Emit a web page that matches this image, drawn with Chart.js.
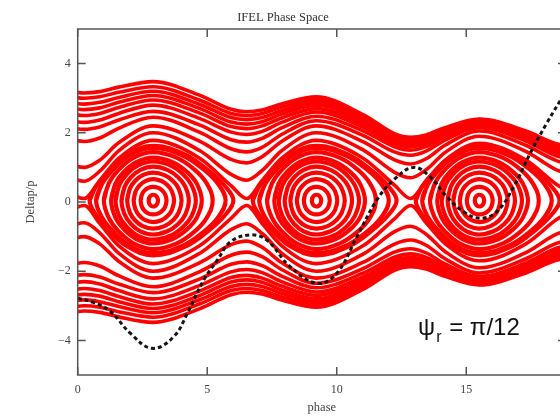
<!DOCTYPE html>
<html>
<head>
<meta charset="utf-8">
<script src="https://cdn.jsdelivr.net/npm/chart.js@4.4.0/dist/chart.umd.min.js"></script>
<style>
  html, body { margin: 0; padding: 0; background: #fff; overflow: hidden; }
  canvas { display: block; }
</style>
</head>
<body>
<canvas id="phase-chart" width="644" height="417"></canvas>
<script>
// axis ticks
const phaseTicks = [0, 5, 10, 15];
const deltaTicks = [-4, -2, 0, 2, 4];
const deltaTickLabels = ['\u22124', '\u22122', '0', '2', '4'];

const bandPhase = [-1.55, 0.25, 0.85, 1.58, 2.91, 4.72, 5.92, 6.52, 7.12, 7.87, 9.21, 11.03, 12.25, 12.85, 13.45, 14.18, 15.5, 17.3, 18.5, 19.1];

// upper untrapped orbits (Deltap/p), inner to outer; the lower half is the mirror
const upperOrbits = [
  [1.26, 0.10, 0.62, 1.26, 1.78, 1.26, 0.47, 0.10, 0.62, 1.26, 1.78, 1.26, 0.47, 0.10, 0.60, 1.20, 1.70, 1.21, 0.50, 0.25],
  [1.48, 0.60, 0.89, 1.48, 2.00, 1.48, 0.80, 0.63, 0.91, 1.48, 2.00, 1.50, 0.85, 0.70, 0.93, 1.43, 1.90, 1.46, 0.92, 0.80],
  [1.71, 1.00, 1.21, 1.71, 2.20, 1.75, 1.23, 1.13, 1.31, 1.75, 2.20, 1.74, 1.21, 1.10, 1.25, 1.64, 2.05, 1.64, 1.19, 1.10],
  [2.16, 1.75, 1.85, 2.13, 2.45, 2.01, 1.54, 1.45, 1.58, 1.95, 2.35, 1.92, 1.44, 1.35, 1.47, 1.79, 2.15, 1.76, 1.33, 1.25],
  [2.43, 2.10, 2.17, 2.37, 2.62, 2.22, 1.80, 1.73, 1.84, 2.14, 2.48, 2.05, 1.59, 1.50, 1.60, 1.89, 2.22, 1.84, 1.42, 1.35],
  [2.65, 2.30, 2.37, 2.56, 2.80, 2.41, 2.02, 1.95, 2.04, 2.30, 2.60, 2.16, 1.69, 1.60, 1.69, 1.96, 2.27, 1.89, 1.47, 1.40],
  [2.84, 2.50, 2.56, 2.73, 2.95, 2.57, 2.18, 2.12, 2.20, 2.43, 2.70, 2.24, 1.76, 1.67, 1.76, 2.02, 2.31, 1.93, 1.52, 1.45],
  [3.01, 2.67, 2.72, 2.88, 3.08, 2.70, 2.31, 2.25, 2.32, 2.54, 2.80, 2.33, 1.82, 1.73, 1.81, 2.06, 2.34, 1.97, 1.57, 1.50],
  [3.17, 2.83, 2.88, 3.02, 3.20, 2.82, 2.44, 2.38, 2.44, 2.64, 2.88, 2.39, 1.87, 1.78, 1.86, 2.09, 2.36, 2.00, 1.62, 1.55],
  [3.34, 3.00, 3.04, 3.17, 3.33, 2.94, 2.56, 2.50, 2.56, 2.74, 2.96, 2.46, 1.93, 1.83, 1.90, 2.12, 2.38, 2.03, 1.66, 1.60],
  [3.49, 3.15, 3.19, 3.32, 3.48, 3.08, 2.68, 2.61, 2.66, 2.83, 3.04, 2.52, 1.97, 1.87, 1.94, 2.15, 2.40, 2.05, 1.68, 1.62]
];

// bucket centres (phase) and their Deltap/p level
const islandPhase = [2.91, 9.21, 15.5];
const islandDelta = 0.04;

// trapped orbits: upper half as [dphase, dDelta] around a bucket centre
const ringShapes = [
  [[-0.17, 0], [-0.153, 0.074], [-0.119, 0.121], [-0.068, 0.156], [0, 0.17], [0.076, 0.156], [0.133, 0.121], [0.171, 0.074], [0.19, 0]],
  [[-0.48, 0], [-0.432, 0.176], [-0.336, 0.288], [-0.192, 0.368], [0, 0.40], [0.208, 0.368], [0.364, 0.288], [0.468, 0.176], [0.52, 0]],
  [[-0.75, 0], [-0.675, 0.265], [-0.525, 0.438], [-0.30, 0.566], [0, 0.62], [0.324, 0.566], [0.567, 0.438], [0.729, 0.265], [0.81, 0]],
  [[-1.0, 0], [-0.90, 0.34], [-0.70, 0.567], [-0.40, 0.737], [0, 0.81], [0.44, 0.737], [0.77, 0.567], [0.99, 0.34], [1.1, 0]],
  [[-1.22, 0], [-1.098, 0.402], [-0.854, 0.674], [-0.488, 0.887], [0, 0.98], [0.552, 0.887], [0.966, 0.674], [1.242, 0.402], [1.38, 0]],
  [[-1.45, 0], [-1.305, 0.449], [-1.015, 0.763], [-0.58, 1.017], [0, 1.13], [0.66, 1.017], [1.155, 0.763], [1.485, 0.449], [1.65, 0]],
  [[-1.62, 0], [-1.458, 0.484], [-1.134, 0.825], [-0.648, 1.11], [0, 1.24], [0.752, 1.11], [1.316, 0.825], [1.692, 0.484], [1.88, 0]],
  [[-1.9, 0], [-1.71, 0.498], [-1.33, 0.888], [-0.76, 1.235], [0, 1.40], [0.92, 1.235], [1.61, 0.888], [2.07, 0.498], [2.3, 0]],
  [[-2.2, 0], [-1.98, 0.471], [-1.54, 0.894], [-0.88, 1.312], [0, 1.52], [1.12, 1.312], [1.96, 0.894], [2.52, 0.471], [2.8, 0]],
  [[-2.45, 0], [-2.205, 0.408], [-1.715, 0.85], [-0.98, 1.33], [0, 1.58], [1.24, 1.33], [2.17, 0.85], [2.79, 0.408], [3.1, 0]]
];

// black dashed curve
const sepPhase = [0, 0.6, 1.27, 2.04, 2.88, 3.71, 4.23, 4.87, 5.39, 5.9, 6.66, 7.3, 8.2, 9.24, 10.0, 10.78, 11.55, 12.2, 12.96, 13.6, 14.25, 14.9, 15.54, 16.18, 16.83, 17.47, 18.1, 18.85];
const sepDelta = [-2.78, -2.9, -3.17, -3.80, -4.23, -3.89, -3.22, -2.25, -1.68, -1.15, -0.95, -1.1, -1.87, -2.35, -2.06, -1.0, 0.06, 0.64, 1.0, 0.73, 0.15, -0.28, -0.47, -0.28, 0.44, 1.41, 2.27, 3.2];

const orbitColor = 'rgb(255, 0, 0)';
const datasets = [];

datasets.push({
  data: sepPhase.map((x, i) => ({x: x, y: sepDelta[i]})),
  borderColor: '#151515',
  borderWidth: 3,
  borderDash: [4, 3],
  tension: 0.4
});

upperOrbits.forEach(vals => {
  [1, -1].forEach(side => {
    datasets.push({
      data: bandPhase.map((x, i) => ({x: x, y: side * vals[i]})),
      borderColor: orbitColor,
      borderWidth: 3.6,
      cubicInterpolationMode: 'monotone'
    });
  });
});

islandPhase.forEach(x0 => {
  ringShapes.forEach(shape => {
    const upper = shape.map(p => ({x: x0 + p[0], y: islandDelta + p[1]}));
    const lower = shape.slice(1, -1).reverse().map(p => ({x: x0 + p[0], y: islandDelta - p[1]}));
    datasets.push({
      data: upper.concat(lower, [upper[0], upper[1]]),
      borderColor: orbitColor,
      borderWidth: 4.2,
      tension: 0.4
    });
  });
});

const serif = 'Liberation Serif';

// frame, inward ticks and the psi_r label
const framePlugin = {
  id: 'frame',
  afterDraw(chart) {
    const {ctx, chartArea: a, scales: {x, y}} = chart;
    ctx.save();
    ctx.strokeStyle = '#555';
    ctx.lineWidth = 1.5;
    ctx.strokeRect(a.left, a.top, a.right - a.left, a.bottom - a.top);
    ctx.beginPath();
    phaseTicks.forEach(v => {
      const px = x.getPixelForValue(v);
      ctx.moveTo(px, a.bottom); ctx.lineTo(px, a.bottom - 8);
      ctx.moveTo(px, a.top); ctx.lineTo(px, a.top + 8);
    });
    deltaTicks.forEach(v => {
      const py = y.getPixelForValue(v);
      ctx.moveTo(a.left, py); ctx.lineTo(a.left + 8, py);
      ctx.moveTo(a.right, py); ctx.lineTo(a.right - 8, py);
    });
    ctx.stroke();

    const lx = x.getPixelForValue(13.14);
    const ly = y.getPixelForValue(-3.84);
    ctx.fillStyle = '#111';
    ctx.textBaseline = 'alphabetic';
    ctx.font = '24px "Liberation Sans"';
    ctx.fillText('\u03c8', lx, ly);
    const w1 = ctx.measureText('\u03c8').width;
    ctx.font = '16px "Liberation Sans"';
    ctx.fillText('r', lx + w1 + 1, ly + 7);
    const w2 = ctx.measureText('r').width;
    ctx.font = '24px "Liberation Sans"';
    ctx.fillText(' = \u03c0/12', lx + w1 + w2 + 2, ly);
    ctx.restore();
  }
};

const ctx = document.getElementById('phase-chart').getContext('2d');
const myChart = new Chart(ctx, {
  type: 'scatter',
  data: { datasets: datasets },
  options: {
    responsive: false,
    animation: false,
    devicePixelRatio: 1,
    showLine: true,
    layout: { padding: { left: 0, right: 78, top: 0, bottom: 0 } },
    elements: {
      point: { radius: 0, hoverRadius: 0 },
      line: { fill: false }
    },
    plugins: {
      legend: { display: false },
      tooltip: { enabled: false },
      title: {
        display: true,
        text: 'IFEL Phase Space',
        color: '#333',
        font: { family: serif, size: 12.5, weight: 'normal' },
        padding: { top: 10, bottom: 4 }
      }
    },
    scales: {
      x: {
        type: 'linear',
        min: 0,
        max: 18.85,
        afterBuildTicks: s => { s.ticks = phaseTicks.map(v => ({value: v})); },
        afterFit: s => { s.height = 42; },
        grid: { drawOnChartArea: false, drawTicks: false },
        border: { display: false },
        ticks: {
          autoSkip: false,
          maxRotation: 0,
          padding: 8,
          color: '#444',
          font: { family: serif, size: 12 }
        },
        title: {
          display: true,
          text: 'phase',
          color: '#444',
          font: { family: serif, size: 12.5 },
          padding: { top: 0, bottom: 1.5 }
        }
      },
      y: {
        type: 'linear',
        min: -5,
        max: 5,
        afterBuildTicks: s => { s.ticks = deltaTicks.map(v => ({value: v})); },
        afterFit: s => { s.width = 77.7; },
        grid: { drawOnChartArea: false, drawTicks: false },
        border: { display: false },
        ticks: {
          autoSkip: false,
          padding: 7,
          color: '#444',
          font: { family: serif, size: 12 },
          callback: v => deltaTickLabels[deltaTicks.indexOf(v)]
        },
        title: {
          display: true,
          text: 'Deltap/p',
          color: '#444',
          font: { family: serif, size: 12.5 },
          padding: { top: 23.5, bottom: 0 }
        }
      }
    }
  },
  plugins: [framePlugin]
});
</script>
</body>
</html>
